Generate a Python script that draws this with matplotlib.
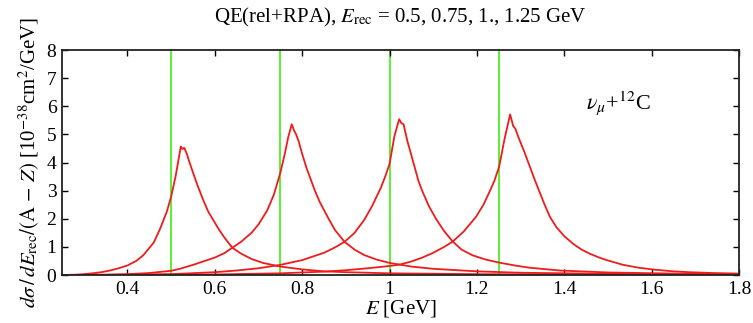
import matplotlib
matplotlib.use("Agg")
import matplotlib.pyplot as plt

plt.rcParams['font.family'] = ['Liberation Serif', 'DejaVu Serif']
plt.rcParams['mathtext.fontset'] = 'stix'

# recoil energies (GeV) marked by green lines
e_rec = [0.5, 0.75, 1.0, 1.25]

# curve for E_rec = 0.5
e1 = [0.25, 0.28, 0.30, 0.32, 0.34, 0.36, 0.38, 0.40, 0.42, 0.436, 0.46, 0.474, 0.49,
      0.50, 0.51, 0.518, 0.522, 0.526, 0.530, 0.536, 0.54, 0.55, 0.56, 0.573, 0.585,
      0.60, 0.61, 0.622, 0.64, 0.66, 0.684, 0.71, 0.75, 0.80, 0.85, 0.90, 1.0, 1.2,
      1.5, 1.8]
v1 = [0.0, 0.01, 0.03, 0.06, 0.1, 0.16, 0.24, 0.34, 0.5, 0.7, 1.15, 1.62, 2.25,
      2.79, 3.5, 4.2, 4.57, 4.48, 4.52, 4.3, 4.1, 3.64, 3.2, 2.68, 2.25,
      1.86, 1.6, 1.33, 0.97, 0.76, 0.57, 0.43, 0.3, 0.2, 0.13, 0.1, 0.06, 0.03,
      0.01, 0.0]

# curve for E_rec = 0.75
e2 = [0.25, 0.35, 0.40, 0.45, 0.50, 0.52, 0.55, 0.575, 0.60, 0.622, 0.64, 0.66, 0.684,
      0.70, 0.72, 0.735, 0.75, 0.76, 0.768, 0.776, 0.781, 0.786, 0.792, 0.80, 0.81,
      0.828, 0.84, 0.858, 0.875, 0.897, 0.92, 0.942, 0.97, 1.0, 1.05, 1.1, 1.2, 1.3,
      1.5, 1.8]
v2 = [0.0, 0.01, 0.03, 0.07, 0.15, 0.22, 0.36, 0.49, 0.62, 0.78, 0.97, 1.18, 1.5,
      1.8, 2.3, 2.85, 3.64, 4.3, 4.9, 5.36, 5.15, 5.0, 4.75, 4.3, 3.8,
      3.04, 2.6, 2.07, 1.6, 1.18, 0.9, 0.71, 0.55, 0.43, 0.3, 0.22, 0.13, 0.08,
      0.04, 0.02]

# curve for E_rec = 1.0
e3 = [0.25, 0.40, 0.50, 0.60, 0.65, 0.70, 0.75, 0.80, 0.85, 0.875, 0.897, 0.92, 0.942,
      0.96, 0.98, 0.99, 1.0, 1.011, 1.022, 1.027, 1.032, 1.041, 1.05, 1.057, 1.066,
      1.075, 1.09, 1.107, 1.125, 1.144, 1.165, 1.19, 1.22, 1.251, 1.29, 1.32, 1.389,
      1.5, 1.65, 1.8]
v3 = [0.0, 0.01, 0.03, 0.1, 0.16, 0.24, 0.36, 0.53, 0.79, 0.98, 1.18, 1.5, 1.96,
      2.45, 3.1, 3.5, 3.95, 4.93, 5.54, 5.4, 5.36, 4.75, 4.25, 3.86, 3.35,
      2.98, 2.45, 1.98, 1.56, 1.2, 0.9, 0.7, 0.55, 0.44, 0.33, 0.26, 0.16,
      0.09, 0.05, 0.03]

# curve for E_rec = 1.25
e4 = [0.25, 0.60, 0.75, 0.85, 0.90, 0.95, 1.0, 1.023, 1.05, 1.075, 1.10, 1.125, 1.144,
      1.17, 1.198, 1.215, 1.228, 1.24, 1.251, 1.263, 1.276, 1.283, 1.288, 1.295, 1.308,
      1.321, 1.332, 1.344, 1.355, 1.367, 1.382, 1.40, 1.421, 1.44, 1.458, 1.48, 1.497,
      1.535, 1.57, 1.606, 1.65, 1.686, 1.74, 1.8]
v4 = [0.0, 0.02, 0.06, 0.12, 0.17, 0.24, 0.32, 0.37, 0.48, 0.62, 0.79, 1.0, 1.18,
      1.55, 2.07, 2.5, 2.93, 3.35, 3.86, 4.82, 5.71, 5.3, 5.2, 4.9, 4.4,
      3.86, 3.4, 2.93, 2.5, 2.07, 1.7, 1.38, 1.1, 0.9, 0.76, 0.62, 0.53,
      0.36, 0.26, 0.19, 0.13, 0.1, 0.07, 0.05]

curves = [(e1, v1), (e2, v2), (e3, v3), (e4, v4)]

fig = plt.figure(figsize=(7.53, 3.23), dpi=100)
ax = fig.add_axes([0.0823, 0.1486, 0.8991, 0.6966])

for x in e_rec:
    ax.axvline(x, color='#4dee22', lw=1.3, zorder=1)
for e, v in curves:
    ax.plot(e, v, color='#ee1c1c', lw=1.3, zorder=2)

ax.set_xlim(0.25, 1.8)
ax.set_ylim(0, 8)
ax.set_xticks([0.4, 0.6, 0.8, 1.0, 1.2, 1.4, 1.6, 1.8])
ax.set_xticklabels(['0.4', '0.6', '0.8', '1', '1.2', '1.4', '1.6', '1.8'])
ax.set_yticks(range(0, 9))
ax.tick_params(direction='in', top=True, right=True, length=4, width=1,
               labelsize=14, pad=4)
for s in ax.spines.values():
    s.set_linewidth(1.3)
    s.set_color('#222222')

ax.set_title(r'QE(rel+RPA), $E_{\rm rec}$ = 0.5, 0.75, 1., 1.25 GeV',
             fontsize=15, pad=20)
ax.set_xlabel(r'$E$ [GeV]', fontsize=15, labelpad=0)
ax.set_ylabel(r'$d\sigma\,/\,dE_{\rm rec}/(\mathrm{A}\,-\,Z)$ [10$^{-38}$cm$^2$/GeV]',
              fontsize=15, labelpad=3)
ax.text(1.45, 6.1, r'$\nu_\mu$+$^{12}$C', fontsize=16, va='center')

fig.savefig('out.png', dpi=100)
